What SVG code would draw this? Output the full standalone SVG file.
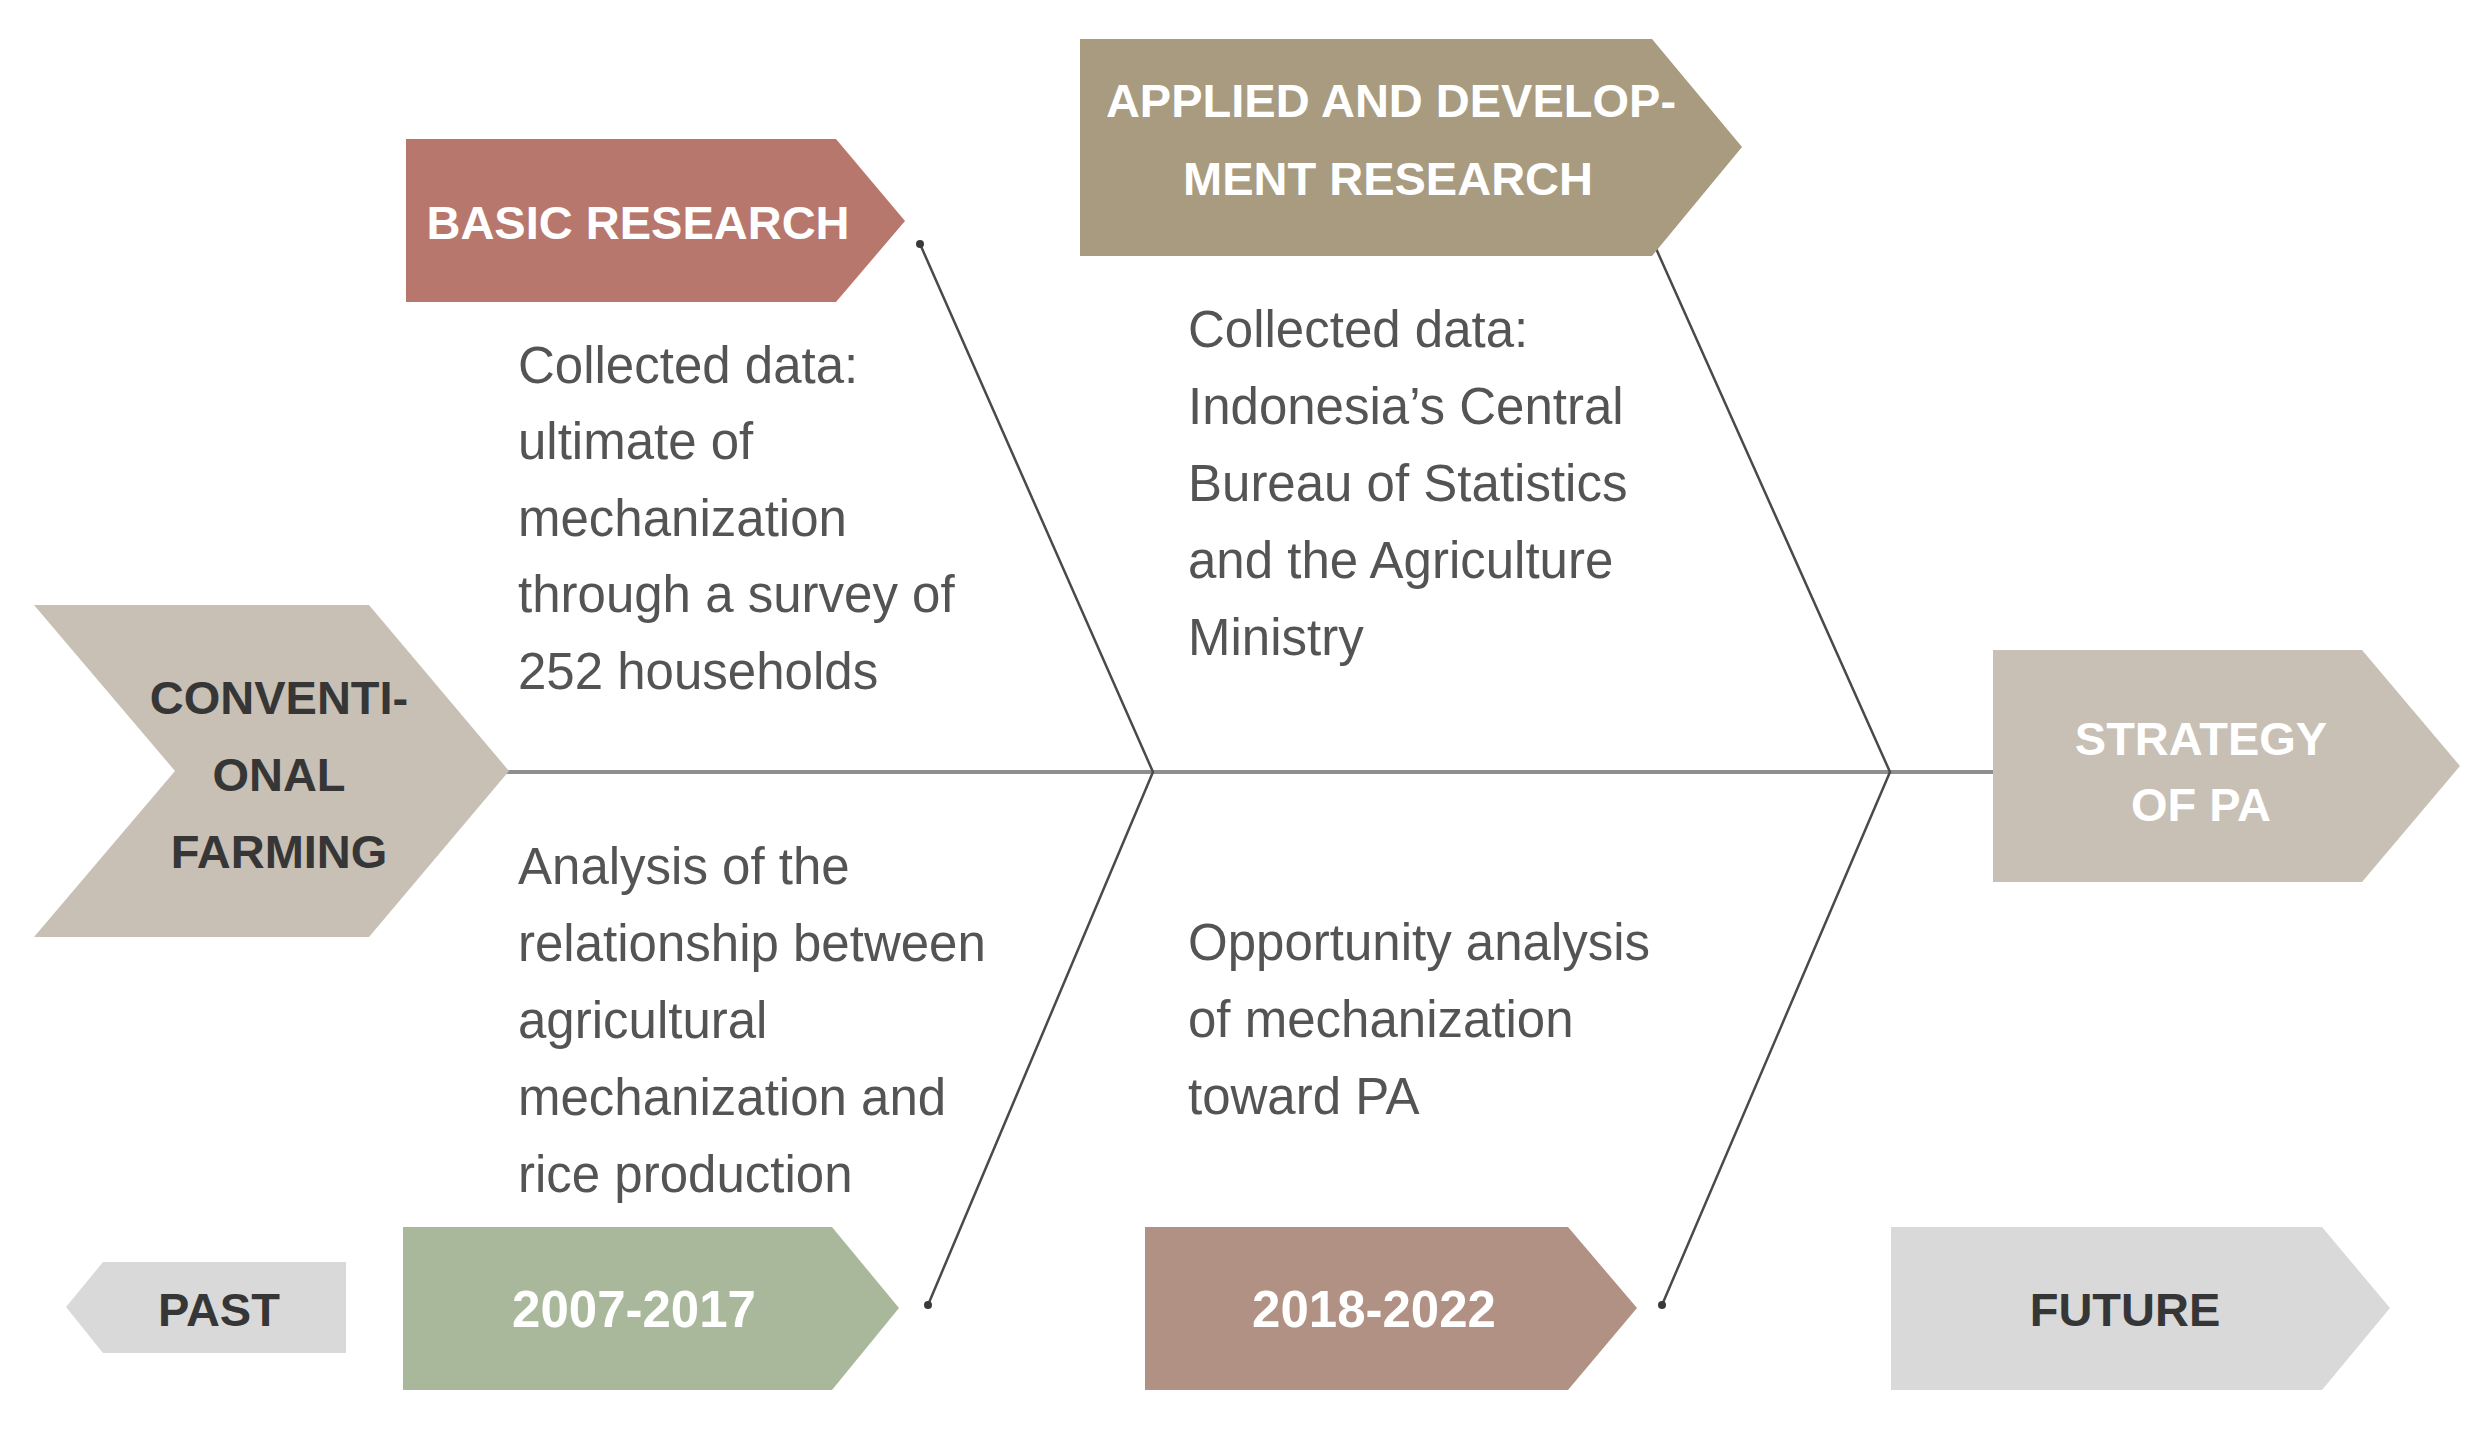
<svg xmlns="http://www.w3.org/2000/svg" width="2488" height="1433" viewBox="0 0 2488 1433">
  <defs>
    <style>
      .hdr { font-family: "Liberation Sans", Arial, sans-serif; font-weight: bold; font-size: 47px; text-anchor: middle; }
      .date { font-family: "Liberation Sans", Arial, sans-serif; font-weight: bold; font-size: 51px; text-anchor: middle; fill: #ffffff; }
      .w { fill: #ffffff; }
      .d { fill: #363636; }
      .body { font-family: "Liberation Sans", Arial, sans-serif; font-size: 51px; fill: #545454; }
      .bone { fill: none; stroke: #4a4a4a; stroke-width: 2.5; }
      .spine { stroke: #8e8e8e; stroke-width: 4; }
    </style>
    <marker id="dot" viewBox="0 0 10 10" refX="5" refY="5" markerWidth="4" markerHeight="4" markerUnits="strokeWidth">
      <circle cx="5" cy="5" r="4" fill="#3a3a3a"/>
    </marker>
  </defs>
  <rect width="2488" height="1433" fill="#ffffff"/>

  <g id="connectors">
    <line class="spine" x1="505" y1="772" x2="1995" y2="772"/>
    <polyline class="bone" points="920,244 1153,772 928,1305" marker-start="url(#dot)" marker-end="url(#dot)"/>
    <polyline class="bone" points="1654,244 1890,772 1662,1305" marker-start="url(#dot)" marker-end="url(#dot)"/>
  </g>

  <g id="conventional-farming">
    <polygon points="34,605 369,605 509,771 369,937 34,937 175,771" fill="#c8bfb5"/>
    <text class="hdr d" x="279" y="714">CONVENTI-</text>
    <text class="hdr d" x="279" y="791">ONAL</text>
    <text class="hdr d" x="279" y="868">FARMING</text>
  </g>

  <g id="basic-research">
    <polygon points="406,139 836,139 905,221 836,302 406,302" fill="#b8776d"/>
    <text class="hdr w" x="638" y="239">BASIC RESEARCH</text>
  </g>

  <g id="applied-research">
    <polygon points="1080,39 1652,39 1742,147 1652,256 1080,256" fill="#a89b80"/>
    <text class="hdr w" x="1391" y="117">APPLIED AND DEVELOP-</text>
    <text class="hdr w" x="1388" y="195">MENT RESEARCH</text>
  </g>

  <g id="strategy-of-pa">
    <polygon points="1993,650 2362,650 2460,766 2362,882 1993,882" fill="#c8bfb5"/>
    <text class="hdr w" x="2201" y="755">STRATEGY</text>
    <text class="hdr w" x="2201" y="821">OF PA</text>
  </g>

  <g id="basic-findings">
    <text class="body" x="518" y="383">Collected data:</text>
    <text class="body" x="518" y="459">ultimate of</text>
    <text class="body" x="518" y="536">mechanization</text>
    <text class="body" x="518" y="612">through a survey of</text>
    <text class="body" x="518" y="689">252 households</text>
  </g>

  <g id="applied-findings">
    <text class="body" x="1188" y="347">Collected data:</text>
    <text class="body" x="1188" y="424">Indonesia’s Central</text>
    <text class="body" x="1188" y="501">Bureau of Statistics</text>
    <text class="body" x="1188" y="578">and the Agriculture</text>
    <text class="body" x="1188" y="655">Ministry</text>
  </g>

  <g id="analysis-2007">
    <text class="body" x="518" y="884">Analysis of the</text>
    <text class="body" x="518" y="961">relationship between</text>
    <text class="body" x="518" y="1038">agricultural</text>
    <text class="body" x="518" y="1115">mechanization and</text>
    <text class="body" x="518" y="1192">rice production</text>
  </g>

  <g id="analysis-2018">
    <text class="body" x="1188" y="960">Opportunity analysis</text>
    <text class="body" x="1188" y="1037">of mechanization</text>
    <text class="body" x="1188" y="1114">toward PA</text>
  </g>

  <g id="past">
    <polygon points="103,1262 346,1262 346,1353 103,1353 66,1307" fill="#d9d9d9"/>
    <text class="hdr d" x="219" y="1326">PAST</text>
  </g>

  <g id="period-2007-2017">
    <polygon points="403,1227 832,1227 899,1308 832,1390 403,1390" fill="#a9b89b"/>
    <text class="date" x="634" y="1327">2007-2017</text>
  </g>

  <g id="period-2018-2022">
    <polygon points="1145,1227 1568,1227 1637,1308 1568,1390 1145,1390" fill="#b09183"/>
    <text class="date" x="1374" y="1327">2018-2022</text>
  </g>

  <g id="future">
    <polygon points="1891,1227 2322,1227 2390,1308 2322,1390 1891,1390" fill="#d9d9d9"/>
    <text class="hdr d" x="2125" y="1326">FUTURE</text>
  </g>
</svg>
